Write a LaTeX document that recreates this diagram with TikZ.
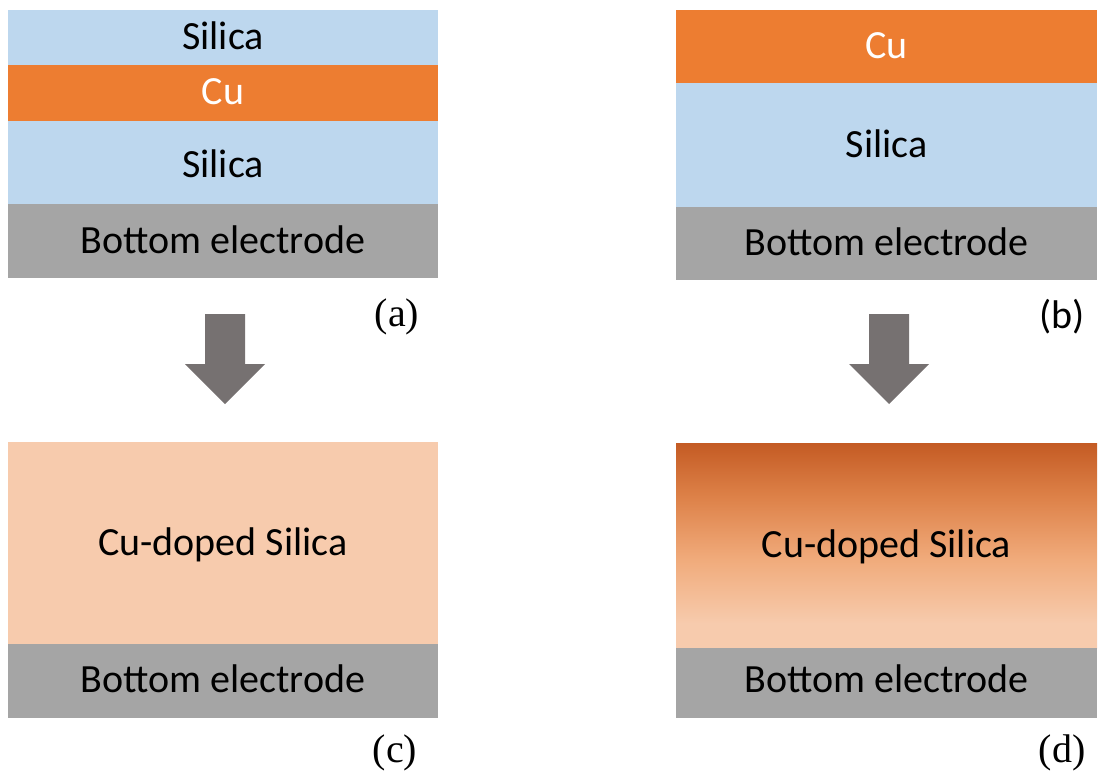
\documentclass[tikz,border=0pt]{standalone}
\usepackage{fontspec}
\setmainfont{Carlito}
\newfontfamily\capfont{Liberation Serif}
\definecolor{silica}{HTML}{BDD7EE}
\definecolor{cuorange}{HTML}{ED7D31}
\definecolor{electrode}{HTML}{A5A5A5}
\definecolor{doped}{HTML}{F7CBAD}
\definecolor{cumid}{HTML}{F0AA7A}
\definecolor{cudeep}{HTML}{DD8148}
\definecolor{cudark}{HTML}{C45B24}
\definecolor{arrowgray}{HTML}{767171}
\pgfdeclareverticalshading{cugrad}{100bp}{color(0bp)=(doped); color(31bp)=(doped); color(47bp)=(cumid); color(62bp)=(cudeep); color(75bp)=(cudark); color(100bp)=(cudark)}

\begin{document}
\begin{tikzpicture}[x=1pt,y=-1pt,
    layer/.style={font=\fontsize{40}{40}\selectfont, inner sep=0pt, text height=25pt, text depth=0pt},
    tag/.style={font=\fontsize{40}{40}\selectfont, inner sep=0pt}]
    \useasboundingbox (0,0) rectangle (1099,773);
    % (a) stack
    \fill[silica] (8,10) rectangle (438,65);
    \fill[cuorange] (8,65) rectangle (438,121);
    \fill[silica] (8,121) rectangle (438,204);
    \fill[electrode] (8,204) rectangle (438,278);
    \node[layer] (aSilTop) at (223,37.5) {Silica};
    \node[layer,white] (aCu) at (223,92.5) {Cu};
    \node[layer] (aSilBot) at (223,164.5) {Silica};
    \node[layer] (aElec) at (223,240.5) {Bottom electrode};
    \node[tag,font=\capfont\fontsize{40}{40}\selectfont] (aTag) at (397,317) {(a)};
    % (b) stack
    \fill[cuorange] (676,10) rectangle (1097,83);
    \fill[silica] (676,83) rectangle (1097,207);
    \fill[electrode] (676,207) rectangle (1097,280);
    \node[layer,white] (bCu) at (886.5,46) {Cu};
    \node[layer] (bSil) at (886.5,144.5) {Silica};
    \node[layer] (bElec) at (886.5,242.5) {Bottom electrode};
    \node[tag] (bTag) at (1062,317) {(b)};
    % arrows
    \foreach \x in {225,889}
    \fill[arrowgray] (\x-20,314) -- (\x+20,314) -- (\x+20,364) -- (\x+40,364)
        -- (\x,404) -- (\x-40,364) -- (\x-20,364) -- cycle;
    % (c) result
    \fill[doped] (8,442) rectangle (438,644);
    \fill[electrode] (8,644) rectangle (438,718);
    \node[layer] (cDoped) at (223,542.5) {Cu-doped Silica};
    \node[layer] (cElec) at (223,679.5) {Bottom electrode};
    \node[tag,font=\capfont\fontsize{40}{40}\selectfont] (cTag) at (395,753) {(c)};
    % (d) result
    \shade[shading=cugrad] (676,443) rectangle (1097,648);
    \fill[electrode] (676,648) rectangle (1097,718);
    \node[layer] (dDoped) at (886.5,544.5) {Cu-doped Silica};
    \node[layer] (dElec) at (886.5,679.5) {Bottom electrode};
    \node[tag,font=\capfont\fontsize{40}{40}\selectfont] (dTag) at (1062,753) {(d)};
\end{tikzpicture}
\end{document}
